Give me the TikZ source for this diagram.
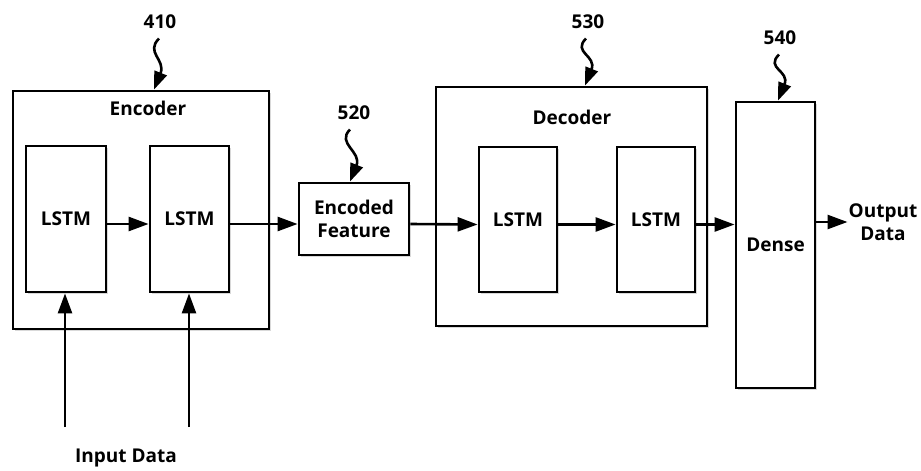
\documentclass[tikz,border=0pt]{standalone}
\usepackage{fontspec}
\setmainfont{Open Sans}
\usetikzlibrary{arrows.meta,shadows}

\begin{document}
\begin{tikzpicture}
    [x=1pt,y=-1pt,
    every node/.style={font=\fontsize{19}{23}\selectfont\bfseries},
    Block/.style={draw,line width=2.8pt,fill=white,inner sep=0pt,
        drop shadow={opacity=0.3,shadow xshift=2pt,shadow yshift=-2pt}},
    flow line/.style={line width=2.6pt,-{Triangle[length=20pt,width=14pt]}},
    callout line/.style={line width=2.6pt,-{Triangle[length=18pt,width=13pt]}},
    ]
    \useasboundingbox (0,0) rectangle (921,471);

    %encoder
    \node[Block,minimum width=256pt,minimum height=238pt] (Enc) at (141,210) {};
    \node (EncLabel) at (148,108) {Encoder};
    \node[Block,minimum width=80pt,minimum height=146pt] (EncLstmA) at (66,219) {LSTM};
    \node[Block,minimum width=79pt,minimum height=146pt] (EncLstmB) at (189.5,219) {LSTM};

    %encoded feature
    \node[Block,minimum width=110pt,minimum height=72pt,align=center] (Feat) at (354,219) {Encoded\\Feature};

    %decoder
    \node[Block,minimum width=271pt,minimum height=239pt] (Dec) at (571.5,206.5) {};
    \node (DecLabel) at (572,117) {Decoder};
    \node[Block,minimum width=78pt,minimum height=145pt] (DecLstmA) at (518,219.5) {LSTM};
    \node[Block,minimum width=78pt,minimum height=145pt] (DecLstmB) at (656,219.5) {LSTM};

    %dense
    \node[Block,minimum width=79pt,minimum height=286pt] (Dense) at (775.5,245) {Dense};

    %input / output
    \node (InLabel) at (126,458) {Input Data};
    \node[align=center,inner sep=1pt] (OutLabel) at (883,222) {Output\\Data};
    \coordinate (InA) at (65,427);
    \coordinate (InB) at (189,427);

    %data flow
    \draw[flow line] (InA) -- (InA |- EncLstmA.south);
    \draw[flow line] (InB) -- (InB |- EncLstmB.south);
    \draw[flow line] ([yshift=-5pt]EncLstmA.east) -- ([yshift=-5pt]EncLstmB.west);
    \draw[flow line] ([yshift=-5pt]EncLstmB.east) -- ([yshift=-5pt]Feat.west);
    \draw[flow line] ([yshift=-5pt]Feat.east) -- ([yshift=-5pt]DecLstmA.west);
    \draw[flow line] ([yshift=-5pt]DecLstmA.east) -- ([yshift=-5pt]DecLstmB.west);
    \draw[flow line] ([yshift=-5pt]DecLstmB.east) -- ([yshift=-5pt]DecLstmB.east -| Dense.west);
    \draw[flow line] (Dense.east |- OutLabel.west) -- (OutLabel.west);

    %reference numbers
    \node (N410) at (160,22) {410};
    \node (N520) at (354,113) {520};
    \node (N530) at (588,22) {530};
    \node (N540) at (780,38) {540};
    \draw[callout line] ([xshift=-1pt,yshift=-6pt]N410.south) .. controls +(-14,14) and +(12,-30) .. ([xshift=13pt]Enc.north);
    \draw[callout line] ([xshift=-4pt,yshift=-6pt]N520.south) .. controls +(-14,14) and +(12,-30) .. ([xshift=-4pt]Feat.north);
    \draw[callout line] ([xshift=-2pt,yshift=-6pt]N530.south) .. controls +(-14,14) and +(12,-30) .. ([xshift=13.5pt]Dec.north);
    \draw[callout line] ([xshift=-1pt,yshift=-6pt]N540.south) .. controls +(-14,14) and +(12,-30) .. ([xshift=2.5pt]Dense.north);

    \end{tikzpicture}
\end{document}
